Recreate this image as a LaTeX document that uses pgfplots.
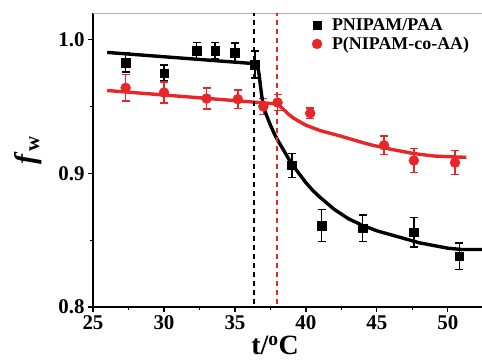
\documentclass[border=0pt]{standalone}
\usepackage{fontspec}
\setmainfont{Liberation Serif}
\usepackage{pgfplots}
\pgfplotsset{compat=1.18}
\definecolor{myred}{RGB}{232,38,40}
\begin{document}
\begin{tikzpicture}
\begin{axis}[
  scale only axis, width=389bp, height=294bp,
  xmin=25, xmax=52.4, ymin=0.8, ymax=1.02,
  axis x line*=bottom, axis y line*=left,
  axis line style={-, line width=1.2pt},
  tick align=outside, tick style={black, line width=1.1pt},
  major tick length=5bp, minor tick length=3bp,
  xtick={25,30,35,40,45,50}, minor x tick num=1,
  ytick={0.8,0.9,1.0}, minor y tick num=1,
  /pgf/number format/assume math mode=true,
  yticklabel style={/pgf/number format/.cd, fixed, fixed zerofill, precision=1},
  ticklabel style={font=\bfseries\fontsize{21}{21}\selectfont},
  xlabel={t/\textsuperscript{o}C},
  xlabel style={font=\bfseries\fontsize{28}{28}\selectfont, at={(rel axis cs:0.468,-0.163)}, anchor=base, inner sep=0pt},
  ylabel={\textit{f}\textsubscript{w}},
  ylabel style={font=\bfseries\fontsize{30}{30}\selectfont, at={(rel axis cs:-0.167,0.534)}, anchor=center},
  legend style={draw=none, fill=none, at={(rel axis cs:0.555,0.995)}, anchor=north west,
    font=\bfseries\fontsize{18}{20}\selectfont, row sep=1pt, column sep=8bp},
  legend cell align=left,
  clip=false,
]
\coordinate (bl) at (rel axis cs:0,0);
\coordinate (tr) at (rel axis cs:1,1);
\draw[gray!60, line width=0.8pt] (rel axis cs:0,1) -- (rel axis cs:1,1);

\addplot[black, only marks, mark=square*, mark size=4.3pt,
  error bars/.cd, y dir=both, y explicit,
  error bar style={line width=1.5pt},
  error mark options={rotate=90, mark size=4pt, line width=1.5pt}]
coordinates {
(27.3,0.983) +- (0,0.007)
(30.0,0.975) +- (0,0.006)
(32.3,0.992) +- (0,0.006)
(33.6,0.992) +- (0,0.006)
(35.0,0.9905) +- (0,0.007)
(36.4,0.9815) +- (0,0.010)
(39.0,0.906) +- (0,0.009)
(41.1,0.861) +- (0,0.012)
(44.0,0.859) +- (0,0.010)
(47.6,0.856) +- (0,0.011)
(50.8,0.838) +- (0,0.010)
};
\addlegendentry{PNIPAM/PAA}

\addplot[myred, only marks, mark=*, mark size=5pt,
  error bars/.cd, y dir=both, y explicit,
  error bar style={line width=1.5pt},
  error mark options={rotate=90, mark size=4pt, line width=1.5pt}]
coordinates {
(27.3,0.964) +- (0,0.010)
(30.0,0.9605) +- (0,0.008)
(33.0,0.956) +- (0,0.008)
(35.2,0.9555) +- (0,0.007)
(37.0,0.950) +- (0,0.006)
(38.0,0.953) +- (0,0.006)
(40.3,0.945) +- (0,0.004)
(45.5,0.921) +- (0,0.007)
(47.6,0.9096) +- (0,0.009)
(50.5,0.908) +- (0,0.009)
};
\addlegendentry{P(NIPAM-co-AA)}

\addplot[black, line width=3.4pt, line join=round, forget plot] coordinates {
(26,0.9905) (36.5,0.982) (36.6,0.980) (36.7,0.974) (36.8,0.965) (36.9,0.957)
(37.0,0.951) (37.2,0.944) (37.5,0.936) (37.8,0.929) (38.0,0.925) (38.5,0.916)
(39.0,0.907) (39.5,0.900) (40,0.893) (40.5,0.887) (41,0.882) (42,0.873)
(43,0.866) (44,0.861) (45,0.857) (46,0.854) (47,0.851) (48,0.848) (49,0.846)
(50,0.844) (51,0.843) (52.4,0.843)
};
\addplot[myred, line width=3.4pt, line join=round, forget plot] coordinates {
(26,0.962) (37.9,0.952) (38.1,0.951) (38.3,0.949) (38.5,0.947) (38.8,0.944)
(39.1,0.9415) (39.5,0.939) (40,0.936) (40.5,0.934) (41,0.932) (41.7,0.930)
(42.4,0.928) (43.2,0.9255) (44,0.923) (44.7,0.921) (45.4,0.9195) (46,0.918)
(46.5,0.917) (47,0.916) (47.5,0.915) (48.2,0.914) (49,0.913) (50,0.9125)
(51.3,0.912)
};

\addplot[black, dash pattern=on 5bp off 4bp, line width=1.6pt, forget plot]
  coordinates {(36.33,0.802) (36.33,1.02)};
\addplot[myred, dash pattern=on 5bp off 4bp, line width=1.6pt, forget plot]
  coordinates {(37.98,0.802) (37.98,1.02)};
\end{axis}
\pgfresetboundingbox
\path[use as bounding box] ([xshift=-93bp,yshift=-57bp]bl) rectangle ([yshift=13bp]tr);
\end{tikzpicture}
\end{document}
